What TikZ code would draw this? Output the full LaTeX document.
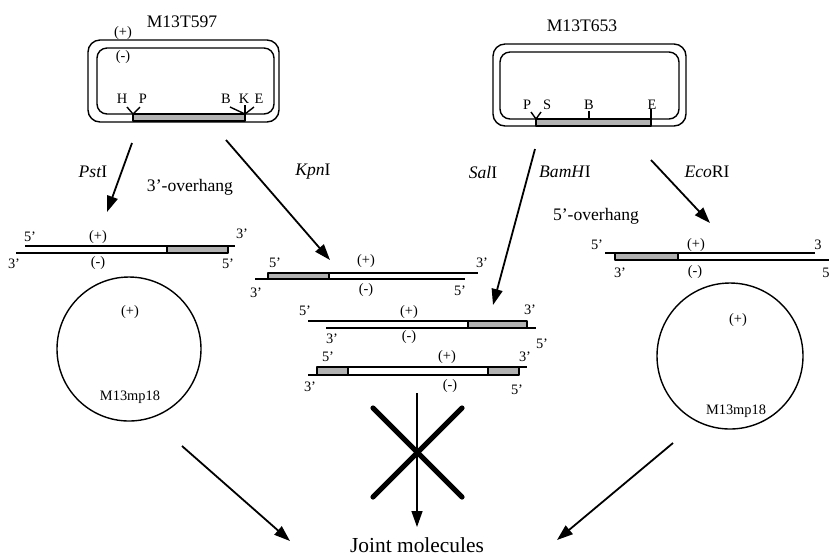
\documentclass[tikz,border=0pt]{standalone}
\usepackage{fontspec}
\setmainfont{Liberation Serif}
\usetikzlibrary{arrows.meta}

\tikzset{
  big/.style={font=\fontsize{8.8}{10}\selectfont, inner sep=0pt},
  small/.style={font=\fontsize{7.2}{8}\selectfont, inner sep=0pt},
  strand/.style={line width=0.8pt},
  insert/.style={draw, line width=0.6pt, fill=gray!60},
  ring/.style={line width=0.7pt},
  cut/.style={line width=0.9pt, -{Triangle[length=8pt,width=5.5pt]}}
}

\begin{document}
\begin{tikzpicture}[x=0.5pt, y=-0.5pt, line join=round]

 \useasboundingbox (0,0) rectangle (829,554);

	%left plasmid
 \draw[ring, rounded corners=6pt] (88,40) rectangle (279,122);
 \draw[ring, rounded corners=5pt] (97,48) rectangle (274,114);
 \draw[insert] (133,114) rectangle (245,121);
 \draw[ring] (127,107) -- (133,114) -- (140,107);
 \draw[ring] (230,107) -- (245,114) -- (254,107);
 \draw[ring] (245,105) -- (245,114);
 \node[big] (t597) at (182,22) {M13T597};
 \node[small] (plus597) at (123,33) {(+)};
 \node[small] (minus597) at (123,57) {(-)};
    \foreach \x/\s/\name in { 122/H/h1,143/P/p1,226/B/b1,244/K/k1,259/E/e1 }{
         \node[small] (\name) at (\x,99) {\s};
    }

	%right plasmid
 \draw[ring, rounded corners=6pt] (493,44) rectangle (686,126);
 \draw[ring, rounded corners=5pt] (500,52) rectangle (679,119);
 \draw[insert] (536,119) rectangle (651,126);
 \draw[ring] (531,112) -- (536,119) -- (541,112);
 \draw[ring] (589,111) -- (589,119);
 \draw[ring] (651,109) -- (651,119);
 \node[big] (t653) at (582,26) {M13T653};
    \foreach \x/\s/\name in { 527/P/p2,547/S/s2,589/B/b2,652/E/e2 }{
         \node[small] (\name) at (\x,105) {\s};
    }

	%enzymes
 \node[big] (pst) at (93,172) {\textit{Pst}I};
 \node[big] (kpn) at (313,172) {\textit{Kpn}I};
 \node[big] (sal) at (483,172) {\textit{Sal}I};
 \node[big] (bam) at (565,172) {\textit{BamH}I};
 \node[big] (eco) at (707,172) {\textit{Eco}RI};
 \node[big] (over3) at (190,187) {3'-overhang};
 \node[big] (over5) at (596,216) {5'-overhang};

 \coordinate (pst0) at (132,143);  \coordinate (pst1) at (107,212);
 \coordinate (kpn0) at (226,140);  \coordinate (kpn1) at (330,260);
 \coordinate (sal0) at (535,149);  \coordinate (sal1) at (493,305);
 \coordinate (eco0) at (651,160);  \coordinate (eco1) at (710,223);
 \draw[cut] (pst0) -- (pst1);
 \draw[cut] (kpn0) -- (kpn1);
 \draw[cut] (sal0) -- (sal1);
 \draw[cut] (eco0) -- (eco1);

	%PstI fragment
 \draw[strand] (25,246) -- (235,246);
 \draw[strand] (16,253) -- (228,253);
 \draw[insert] (167,246) rectangle (228,253);
    \foreach \x/\y/\t/\name in { 30/237/5'/f1a,98/237/{(+)}/f1b,242/234/3'/f1c,14/264/3'/f1d,98/263/{(-)}/f1e,228/264/5'/f1f }{
         \node[small] (\name) at (\x,\y) {\t};
    }

	%KpnI fragment
 \draw[strand] (268,273) -- (478,273);
 \draw[strand] (255,279) -- (465,279);
 \draw[insert] (268,273) rectangle (329,279);
    \foreach \x/\y/\t/\name in { 275/263/5'/f2a,366/261/{(+)}/f2b,482/263/3'/f2c,256/293/3'/f2d,366/290/{(-)}/f2e,460/291/5'/f2f }{
         \node[small] (\name) at (\x,\y) {\t};
    }

	%SalI/BamHI fragment
 \draw[strand] (308,321) -- (527,321);
 \draw[strand] (326,328) -- (536,328);
 \draw[insert] (468,321) rectangle (527,328);
    \foreach \x/\y/\t/\name in { 305/311/5'/f3a,409/312/{(+)}/f3b,530/310/3'/f3c,332/339/3'/f3d,409/337/{(-)}/f3e,542/344/5'/f3f }{
         \node[small] (\name) at (\x,\y) {\t};
    }

	%KpnI/BamHI fragment
 \draw[strand] (317,367) -- (527,367);
 \draw[strand] (308,375) -- (519,375);
 \draw[insert] (317,367) rectangle (348,375);
 \draw[insert] (488,367) rectangle (519,375);
    \foreach \x/\y/\t/\name in { 328/357/5'/f4a,447/357/{(+)}/f4b,525/357/3'/f4c,310/387/3'/f4d,450/386/{(-)}/f4e,517/390/5'/f4f }{
         \node[small] (\name) at (\x,\y) {\t};
    }

	%EcoRI fragment
 \draw[strand] (605,253) -- (815,253);
 \draw[strand] (615,260) -- (829,260);
 \draw[insert] (615,253) rectangle (678,260);
    \foreach \x/\y/\t/\name in { 597/245/5'/f5a,696/245/{(+)}/f5b,818/245/3/f5c,620/273/3'/f5d,695/272/{(-)}/f5e,826/273/5/f5f }{
         \node[small] (\name) at (\x,\y) {\t};
    }

	%M13mp18
 \draw[ring] (129,349) circle [radius=72];
 \node[small] (plusL) at (130,312) {(+)};
 \node[small] (mpL) at (130,397) {M13mp18};
 \draw[ring] (730,356) circle [radius=73];
 \node[small] (plusR) at (738,320) {(+)};
 \node[small] (mpR) at (736,411) {M13mp18};

	%joint molecules
 \draw[line width=2.6pt, line cap=round] (373,408) -- (462,497);
 \draw[line width=2.6pt, line cap=round] (462,408) -- (373,497);
 \node[font=\fontsize{10.7}{12}\selectfont, inner sep=0pt] (joint) at (417,545) {Joint molecules};

 \coordinate (lj0) at (182,446);  \coordinate (lj1) at (290,541);
 \coordinate (rj0) at (673,443);  \coordinate (rj1) at (557,540);
 \coordinate (mid0) at (417,393); \coordinate (mid1) at (417,527);
 \draw[cut] (lj0) -- (lj1);
 \draw[cut] (rj0) -- (rj1);
 \draw[cut, line width=0.7pt] (mid0) -- (mid1);

\end{tikzpicture}
\end{document}
